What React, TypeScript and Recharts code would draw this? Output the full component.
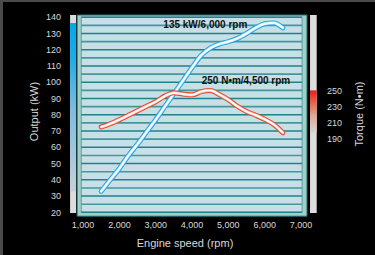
import {
  ComposedChart,
  Line,
  XAxis,
  YAxis,
  ReferenceArea,
  ReferenceLine,
  ReferenceDot,
} from "recharts";

// Engine output curves
const RPM = [
  1500, 1750, 2000, 2250, 2500, 2750, 3000, 3250, 3500, 3750, 4000, 4250, 4500,
  4750, 5000, 5250, 5500, 5750, 6000, 6250, 6500,
];
const POWER_KW = [
  33, 40, 47, 55, 62, 69.5, 77, 85, 93, 101, 109, 116.5, 121, 123.5, 125, 127,
  130, 133.5, 136, 136.5, 133.5,
];
const TORQUE_NM = [
  205, 209, 214, 219.5, 225, 230.5, 236, 243, 247, 245.5, 244.5, 248.5, 250,
  245, 238.5, 230.5, 224, 219.5, 214.5, 208, 198,
];

const RPM_TICKS = [1000, 2000, 3000, 4000, 5000, 6000, 7000];
const KW_TICKS = [20, 30, 40, 50, 60, 70, 80, 90, 100, 110, 120, 130, 140];
const NM_TICKS = [190, 210, 230, 250];
const GRID_KW = [
  20, 25, 30, 35, 40, 45, 50, 55, 60, 65, 70, 75, 80, 85, 90, 95, 100, 105, 110,
  115, 120, 125, 130, 135, 140,
];

const POWER_NOTE = "135 kW/6,000 rpm";
const TORQUE_NOTE = "250 N•m/4,500 rpm";

const data = RPM.map((rpm, i) => ({
  rpm,
  power: POWER_KW[i],
  torque: TORQUE_NM[i],
}));

const FONT = "'Liberation Sans', Arial, sans-serif";
const TICK = { fontSize: 9, fill: "#d8d8d8", fontFamily: FONT };
const fmt = (v: number) => v.toLocaleString("en-US");

const axisTitle = (text: string, x: number, y: number, angle = 0) => () =>
  (
    <text
      x={x}
      y={y}
      transform={angle ? `rotate(${angle}, ${x}, ${y})` : undefined}
      textAnchor="middle"
      dominantBaseline="central"
      fontSize={11}
      fill="#d8d8d8"
      fontFamily={FONT}
    >
      {text}
    </text>
  );

const note = (text: string) => (p: any) =>
  (
    <text
      x={p.cx}
      y={p.cy}
      fontSize={10}
      fontWeight="bold"
      fill="#111"
      fontFamily={FONT}
    >
      {text}
    </text>
  );

export default function App() {
  const pMin = Math.min(...POWER_KW);
  const pMax = Math.max(...POWER_KW);
  const tMin = Math.min(...TORQUE_NM);
  const tMax = Math.max(...TORQUE_NM);

  return (
    <div
      style={{
        position: "fixed",
        top: 0,
        left: 0,
        width: 375,
        height: 255,
        background: "#000",
        boxShadow: "inset 3px 2px 0 #4a4a4a",
      }}
    >
      <ComposedChart
        width={375}
        height={255}
        data={data}
        margin={{ top: 14, right: 0, bottom: 0, left: 0 }}
      >
        <defs>
          <linearGradient id="kwBar" x1="0" y1="0" x2="0" y2="1">
            <stop offset="0" stopColor="#00a8ea" />
            <stop offset="0.2" stopColor="#1eaae6" />
            <stop offset="0.5" stopColor="#78bce0" />
            <stop offset="0.8" stopColor="#a8c8dc" />
            <stop offset="1" stopColor="#c6d0d8" />
          </linearGradient>
          <linearGradient id="nmBar" x1="0" y1="0" x2="0" y2="1">
            <stop offset="0" stopColor="#e31e24" />
            <stop offset="0.25" stopColor="#e85a40" />
            <stop offset="0.6" stopColor="#e0a898" />
            <stop offset="1" stopColor="#d8d4d4" />
          </linearGradient>
        </defs>

        <XAxis
          dataKey="rpm"
          type="number"
          domain={[640, 7440]}
          ticks={RPM_TICKS}
          tickFormatter={fmt}
          tick={TICK}
          axisLine={false}
          tickLine={false}
          tickSize={0}
          tickMargin={4}
          height={37.8}
          label={{ content: axisTitle("Engine speed (rpm)", 185, 243) }}
        />
        <YAxis
          yAxisId="kw"
          domain={[17, 142]}
          ticks={KW_TICKS}
          tick={TICK}
          axisLine={false}
          tickLine={false}
          tickSize={0}
          tickMargin={9}
          width={70}
          label={{ content: axisTitle("Output (kW)", 33.5, 111.5, -90) }}
        />
        <YAxis
          yAxisId="nm"
          orientation="right"
          domain={[94, 344]}
          ticks={NM_TICKS}
          tick={TICK}
          axisLine={false}
          tickLine={false}
          tickSize={0}
          tickMargin={10}
          width={58}
          label={{ content: axisTitle("Torque (N•m)", 358.5, 114, -90) }}
        />

        {/* side scale bars */}
        <ReferenceArea yAxisId="kw" x1={642} x2={807} y1={19.6} y2={141.4} fill="#dddddd" fillOpacity={1} />
        <ReferenceArea yAxisId="kw" x1={642} x2={807} y1={pMin} y2={pMax} fill="url(#kwBar)" fillOpacity={1} />
        <ReferenceArea yAxisId="kw" x1={7248} x2={7432} y1={19.6} y2={141.4} fill="#dddddd" fillOpacity={1} />
        <ReferenceArea yAxisId="nm" x1={7248} x2={7432} y1={tMin} y2={tMax} fill="url(#nmBar)" fillOpacity={1} />

        {/* frame + plot panel */}
        <ReferenceArea
          yAxisId="kw"
          x1={835}
          x2={7165}
          y1={17.6}
          y2={141.4}
          fill="#9fcfc6"
          fillOpacity={1}
          stroke="#1b6b73"
          strokeWidth={1}
        />
        <ReferenceArea
          yAxisId="kw"
          x1={950}
          x2={7030}
          y1={20}
          y2={140}
          fill="#c6e0e5"
          fillOpacity={1}
          stroke="#5c9fa8"
          strokeWidth={1}
        />
        {GRID_KW.map((v) => (
          <ReferenceLine
            key={v}
            yAxisId="kw"
            segment={[
              { x: 950, y: v },
              { x: 7030, y: v },
            ]}
            stroke={v % 10 === 0 ? "#21808d" : "#4596a1"}
            strokeWidth={1.6}
          />
        ))}

        {/* power */}
        <Line yAxisId="kw" type="monotone" dataKey="power" stroke="#1ea3e6" strokeWidth={5} strokeLinecap="round" dot={false} isAnimationActive={false} />
        <Line yAxisId="kw" type="monotone" dataKey="power" stroke="#a6dcf6" strokeWidth={3.2} strokeLinecap="round" dot={false} isAnimationActive={false} />
        <Line yAxisId="kw" type="monotone" dataKey="power" stroke="#ffffff" strokeWidth={1.8} strokeLinecap="round" dot={false} isAnimationActive={false} />

        {/* torque */}
        <Line yAxisId="nm" type="monotone" dataKey="torque" stroke="#e2452c" strokeWidth={5} strokeLinecap="round" dot={false} isAnimationActive={false} />
        <Line yAxisId="nm" type="monotone" dataKey="torque" stroke="#f6ae9e" strokeWidth={3.2} strokeLinecap="round" dot={false} isAnimationActive={false} />
        <Line yAxisId="nm" type="monotone" dataKey="torque" stroke="#ffffff" strokeWidth={1.8} strokeLinecap="round" dot={false} isAnimationActive={false} />

        <ReferenceDot yAxisId="kw" x={3210} y={133.2} r={0} shape={note(POWER_NOTE)} />
        <ReferenceDot yAxisId="kw" x={4266} y={99} r={0} shape={note(TORQUE_NOTE)} />
      </ComposedChart>
    </div>
  );
}
